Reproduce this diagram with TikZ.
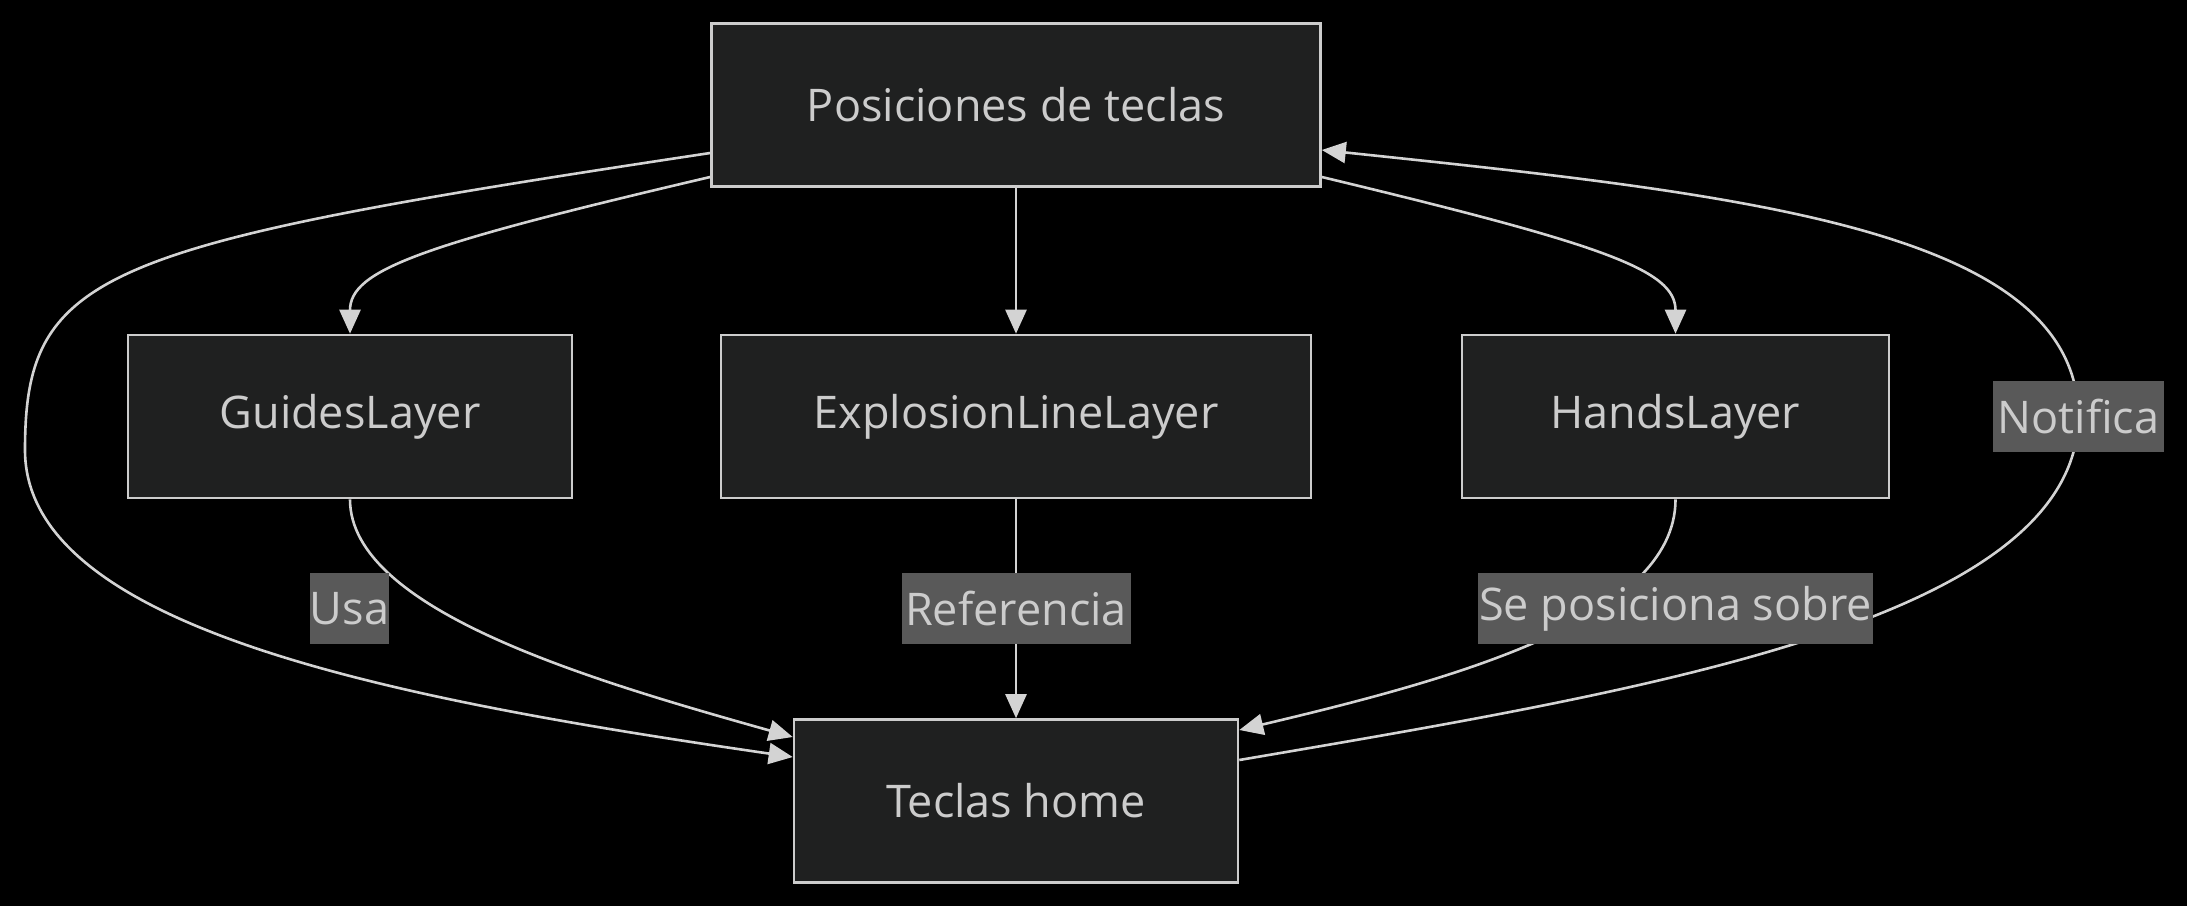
\documentclass[tikz,border=0pt]{standalone}
\usepackage{fontspec}
\setmainfont{Open Sans}
\usetikzlibrary{arrows.meta,calc}
\definecolor{nodefill}{HTML}{1F2020}
\definecolor{nodeborder}{HTML}{CCCCCC}
\definecolor{txt}{HTML}{CCCCCC}
\definecolor{edgecol}{HTML}{D3D3D3}
\definecolor{lblbg}{HTML}{595959}
\begin{document}
\begin{tikzpicture}[x=0.5pt,y=-0.5pt,
  box/.style={draw=nodeborder, fill=nodefill, line width=1.3pt, text=txt,
    minimum height=81.5pt, inner sep=0pt, font=\fontsize{22.5}{27}\selectfont},
  lbl/.style={fill=lblbg, text=txt, minimum height=35.5pt, inner sep=0pt,
    font=\fontsize{22.5}{27}\selectfont},
  conn/.style={draw=edgecol, line width=1.3pt,
    -{Triangle[length=12pt,width=10.5pt,fill=edgecol]}}]
\fill[black] (0,0) rectangle (2187,906);
\useasboundingbox (0,0) rectangle (2187,906);

% nodes
\node[box, minimum width=304.5pt] (top) at (1016,105) {Posiciones de teclas};
\node[box, minimum width=222pt] (guides) at (350,416.5) {GuidesLayer};
\node[box, minimum width=295pt] (expl) at (1016,416.5) {ExplosionLineLayer};
\node[box, minimum width=213.5pt] (hands) at (1675.5,416.5) {HandsLayer};
\node[box, minimum width=222pt] (home) at (1016,801) {Teclas home};

% label positions
\coordinate (cusa) at (349.5,608.5);
\coordinate (cref) at (1016,608.5);
\coordinate (cse) at (1675.5,608.5);
\coordinate (cnot) at (2078.5,416.5);
\coordinate (cleft) at (25,450);

% edges
\draw[conn] (expl.south) -- (home.north);
\draw[conn] (top.south) -- (expl.north);
\draw[conn] ([yshift=-36pt]top.west) .. controls (420,245) and (350,270) .. (guides.north);
\draw[conn] ([yshift=-36pt]top.east) .. controls (1605,245) and (1675.5,270) .. (hands.north);
\draw[conn] ([yshift=-24pt]top.west) .. controls (100,245) and (25,270) .. (cleft)
   .. controls (25,630) and (400,700) .. ([yshift=22pt]home.west);
\draw[conn] (guides.south) .. controls (350,610) and (590,680) .. ([yshift=32pt]home.west);
\draw[conn] (hands.south) .. controls (1675.5,620) and (1450,680) .. ([yshift=35.5pt]home.east);
\draw[conn] ([yshift=20.5pt]home.east) .. controls (1650,690) and (2076,620) .. (cnot)
   .. controls (2076,230) and (1750,195) .. ([yshift=-22.5pt]top.east);

% labels
\node[lbl, minimum width=37.5pt] (lusa) at (cusa) {Usa};
\node[lbl, minimum width=114.5pt] (lref) at (cref) {Referencia};
\node[lbl, minimum width=197.5pt] (lse) at (cse) {Se posiciona sobre};
\node[lbl, minimum width=85.5pt] (lnot) at (cnot) {Notifica};
\end{tikzpicture}
\end{document}
